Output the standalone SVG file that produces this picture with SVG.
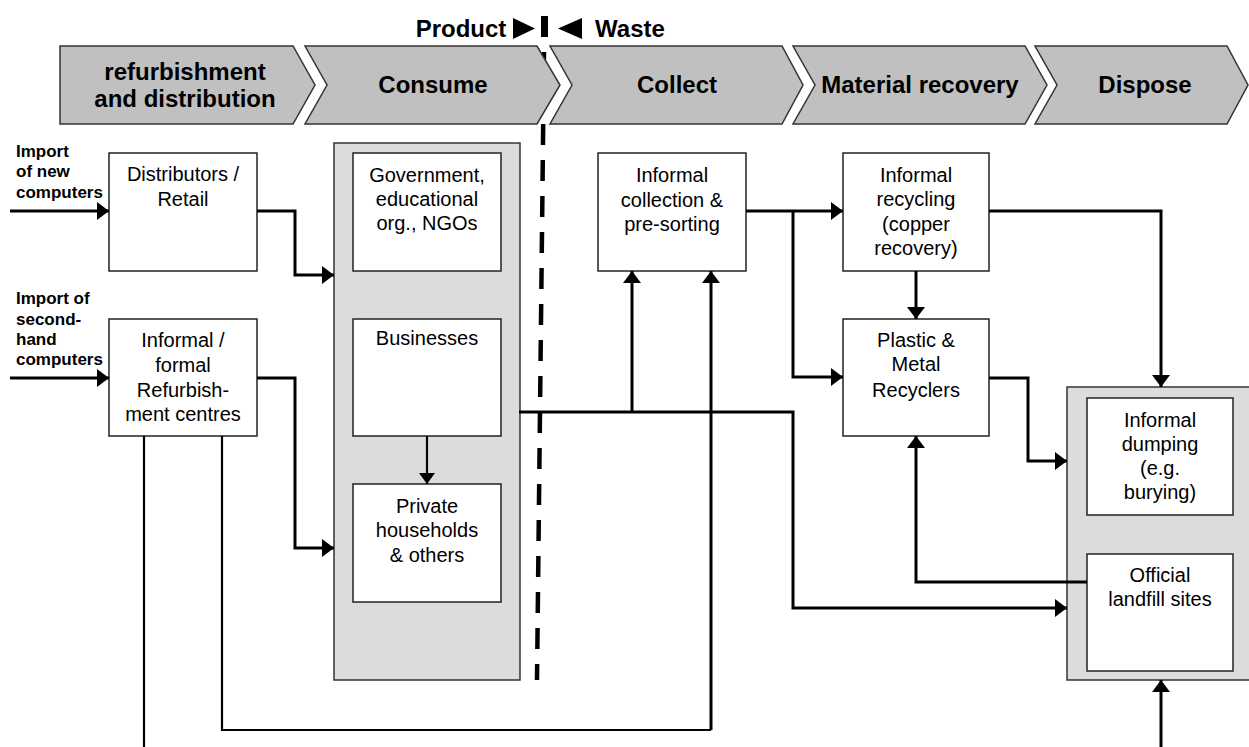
<svg xmlns="http://www.w3.org/2000/svg" width="1249" height="747" viewBox="0 0 1249 747">
<style>
.chev{fill:#c0c0c0;stroke:#333;stroke-width:1.5}
.box{fill:#fff;stroke:#222;stroke-width:1.5}
.panel{fill:#dcdcdc;stroke:#333;stroke-width:1.5}
.ht{font-family:"Liberation Sans",Arial,sans-serif;font-weight:bold;font-size:24px;fill:#000;text-anchor:middle}
.t{font-family:"Liberation Sans",Arial,sans-serif;font-size:20px;fill:#000;text-anchor:middle}
.lb{font-family:"Liberation Sans",Arial,sans-serif;font-weight:bold;font-size:17px;fill:#000}
.c{fill:none;stroke:#000;stroke-width:3}
.c2{fill:none;stroke:#000;stroke-width:2.2}
</style>
<defs>
<marker id="ah" markerUnits="userSpaceOnUse" markerWidth="12" markerHeight="18" refX="12" refY="9" orient="auto">
<path d="M0,0 L12,9 L0,18 z" fill="#000"/>
</marker>
<marker id="ahs" markerUnits="userSpaceOnUse" markerWidth="11" markerHeight="16" refX="11" refY="8" orient="auto">
<path d="M0,0 L11,8 L0,16 z" fill="#000"/>
</marker>
</defs>
<rect width="1249" height="747" fill="#fff"/>
<g id="divider">
<path d="M544,52 L537,680" fill="none" stroke="#000" stroke-width="4.5" stroke-dasharray="21 15"/>
</g>
<g id="header">
<text class="ht" x="461" y="37">Product</text>
<path d="M513,18 L535,28.5 L513,39 z" fill="#000"/>
<rect x="541" y="16" width="7" height="21" fill="#000"/>
<path d="M582,18 L558,28.5 L582,39 z" fill="#000"/>
<text class="ht" x="630" y="37">Waste</text>
</g>
<g id="stage-refurbishment">
<path class="chev" d="M60,46 L293,46 L315,85 L293,124 L60,124 z"/>
<text class="ht" x="185" y="80">refurbishment</text>
<text class="ht" x="185" y="107">and distribution</text>
</g>
<g id="stage-consume">
<path class="chev" d="M305,46 L537,46 L560,85 L537,124 L305,124 L327,85 z"/>
<text class="ht" x="433" y="93">Consume</text>
</g>
<g id="stage-collect">
<path class="chev" d="M550,46 L782,46 L803,85 L782,124 L550,124 L572,85 z"/>
<text class="ht" x="677" y="93">Collect</text>
</g>
<g id="stage-material">
<path class="chev" d="M793,46 L1025,46 L1047,85 L1025,124 L793,124 L815,85 z"/>
<text class="ht" x="920" y="93">Material recovery</text>
</g>
<g id="stage-dispose">
<path class="chev" d="M1035,46 L1227,46 L1248,85 L1227,124 L1035,124 L1057,85 z"/>
<text class="ht" x="1145" y="93">Dispose</text>
</g>
<g id="import-new">
<text class="lb" x="16" y="157">Import</text>
<text class="lb" x="16" y="177">of new</text>
<text class="lb" x="16" y="198">computers</text>
</g>
<g id="import-second">
<text class="lb" x="16" y="304">Import of</text>
<text class="lb" x="16" y="325">second-</text>
<text class="lb" x="16" y="345">hand</text>
<text class="lb" x="16" y="365">computers</text>
</g>
<g id="distributors">
<rect class="box" x="109" y="153" width="148" height="118"/>
<text class="t" x="183" y="181">Distributors /</text>
<text class="t" x="183" y="206">Retail</text>
</g>
<g id="refurbishment-centres">
<rect class="box" x="109" y="319" width="148" height="117"/>
<text class="t" x="183" y="347">Informal /</text>
<text class="t" x="183" y="372">formal</text>
<text class="t" x="183" y="397">Refurbish-</text>
<text class="t" x="183" y="421">ment centres</text>
</g>
<g id="consume-panel">
<rect class="panel" x="334" y="143" width="186" height="537"/>
</g>
<g id="government">
<rect class="box" x="353" y="153" width="148" height="118"/>
<text class="t" x="427" y="182">Government,</text>
<text class="t" x="427" y="206">educational</text>
<text class="t" x="427" y="230">org., NGOs</text>
</g>
<g id="businesses">
<rect class="box" x="353" y="319" width="148" height="117"/>
<text class="t" x="427" y="345">Businesses</text>
</g>
<g id="households">
<rect class="box" x="353" y="484" width="148" height="118"/>
<text class="t" x="427" y="513">Private</text>
<text class="t" x="427" y="537">households</text>
<text class="t" x="427" y="562">&amp; others</text>
</g>
<g id="informal-collection">
<rect class="box" x="598" y="153" width="148" height="118"/>
<text class="t" x="672" y="182">Informal</text>
<text class="t" x="672" y="207">collection &amp;</text>
<text class="t" x="672" y="231">pre-sorting</text>
</g>
<g id="informal-recycling">
<rect class="box" x="843" y="153" width="146" height="118"/>
<text class="t" x="916" y="182">Informal</text>
<text class="t" x="916" y="206">recycling</text>
<text class="t" x="916" y="231">(copper</text>
<text class="t" x="916" y="255">recovery)</text>
</g>
<g id="plastic-metal">
<rect class="box" x="843" y="319" width="146" height="117"/>
<text class="t" x="916" y="347">Plastic &amp;</text>
<text class="t" x="916" y="371">Metal</text>
<text class="t" x="916" y="397">Recyclers</text>
</g>
<g id="dispose-panel">
<rect class="panel" x="1067" y="387" width="190" height="293"/>
</g>
<g id="informal-dumping">
<rect class="box" x="1087" y="398" width="146" height="117"/>
<text class="t" x="1160" y="427">Informal</text>
<text class="t" x="1160" y="451">dumping</text>
<text class="t" x="1160" y="475">(e.g.</text>
<text class="t" x="1160" y="499">burying)</text>
</g>
<g id="landfill">
<rect class="box" x="1087" y="554" width="146" height="117"/>
<text class="t" x="1160" y="582">Official</text>
<text class="t" x="1160" y="606">landfill sites</text>
</g>
<g id="connectors">
<path class="c" d="M10,211 L109,211" marker-end="url(#ah)"/>
<path class="c" d="M10,378 L109,378" marker-end="url(#ah)"/>
<path class="c" d="M257,211 L295,211 L295,275 L334,275" marker-end="url(#ah)"/>
<path class="c" d="M257,378 L295,378 L295,548 L334,548" marker-end="url(#ah)"/>
<path class="c2" d="M427,436 L427,484" marker-end="url(#ahs)"/>
<path class="c2" d="M144,436 L144,747"/>
<path class="c2" d="M222,436 L222,730 L711,730"/>
<path class="c" d="M711,730 L711,271" marker-end="url(#ah)"/>
<path class="c" d="M519,412 L793,412 L793,608 L1067,608" marker-end="url(#ah)"/>
<path class="c" d="M632,412 L632,271" marker-end="url(#ah)"/>
<path class="c" d="M746,211 L843,211" marker-end="url(#ah)"/>
<path class="c" d="M793,211 L793,377 L843,377" marker-end="url(#ah)"/>
<path class="c" d="M916,271 L916,319" marker-end="url(#ah)"/>
<path class="c" d="M989,211 L1161,211 L1161,387" marker-end="url(#ah)"/>
<path class="c" d="M989,378 L1028,378 L1028,461 L1067,461" marker-end="url(#ah)"/>
<path class="c" d="M1087,582 L916,582 L916,436" marker-end="url(#ah)"/>
<path class="c" d="M1161,747 L1161,680" marker-end="url(#ah)"/>
</g>
</svg>
